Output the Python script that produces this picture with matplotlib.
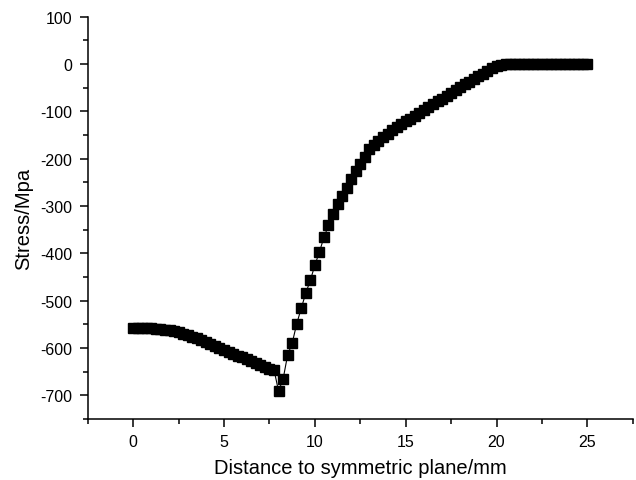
import matplotlib
matplotlib.use("Agg")
import matplotlib.pyplot as plt
from matplotlib.ticker import MultipleLocator

plt.rcParams['font.family'] = ['Liberation Sans', 'DejaVu Sans']
plt.rcParams['axes.unicode_minus'] = False

distance = [0.25 * i for i in range(101)]
stress = [
    -557, -557, -557.5, -558, -558.5, -559, -560, -561, -563, -565,
    -567, -570, -573, -576, -580, -583, -587, -591, -595, -600,
    -604, -608, -612, -616, -620, -624, -628, -632, -636, -640,
    -644, -646,
    -691, -666, -615, -590, -549, -516, -484, -457, -425, -397,
    -366, -341, -316, -296, -278, -261, -243, -226, -211, -197,
    -180, -170, -162, -154,
    -147, -140, -133, -127, -121, -115, -109, -103, -97, -91,
    -85, -79, -73, -67, -61, -55, -49, -43, -37, -31,
    -25, -20, -14, -9, -4, -1,
    0, 0, 0, 0, 0, 0, 0, 0, 0, 0, 0, 0, 0, 0, 0, 0, 0, 0, 0,
]

fig = plt.figure(figsize=(6.36, 4.81), dpi=100)
ax = fig.add_axes([0.138, 0.127, 0.857, 0.836])
ax.plot(distance, stress, color='black', lw=0.8, marker='s', ms=6.5,
        markerfacecolor='black', markeredgecolor='black')

ax.set_xlim(-2.5, 27.5)
ax.set_ylim(-750, 100)
ax.xaxis.set_major_locator(MultipleLocator(5))
ax.xaxis.set_minor_locator(MultipleLocator(2.5))
ax.yaxis.set_major_locator(MultipleLocator(100))
ax.yaxis.set_minor_locator(MultipleLocator(50))
ax.spines['top'].set_visible(False)
ax.spines['right'].set_visible(False)
for s in ('left', 'bottom'):
    ax.spines[s].set_linewidth(1.1)
ax.tick_params(which='major', direction='out', length=6, width=1.1, labelsize=11.5, pad=5)
ax.tick_params(which='minor', direction='out', length=3.5, width=1.1)
ax.set_xlabel('Distance to symmetric plane/mm', fontsize=14.5, labelpad=6)
ax.set_ylabel('Stress/Mpa', fontsize=14.5, labelpad=5)

fig.savefig('out.png', dpi=100)
